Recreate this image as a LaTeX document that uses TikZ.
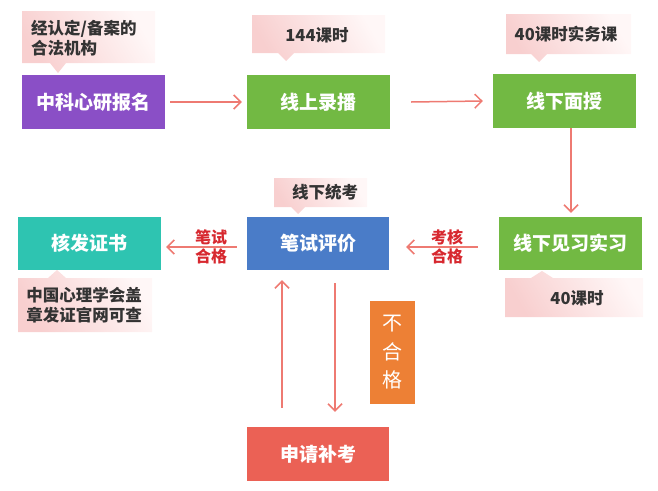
\documentclass[tikz,border=0pt]{standalone}
\usepackage{fontspec}
\setmainfont{Noto Sans CJK SC}
\usetikzlibrary{arrows.meta}
\definecolor{cpurple}{HTML}{8A4FC6}
\definecolor{cgreen}{HTML}{72B943}
\definecolor{cblue}{HTML}{4A7CC8}
\definecolor{cteal}{HTML}{2EC4B1}
\definecolor{corange}{HTML}{ED8035}
\definecolor{cred}{HTML}{EB6155}
\definecolor{carrow}{HTML}{EE7A72}
\definecolor{clabel}{HTML}{D7282F}
\definecolor{ctext}{HTML}{333333}
\definecolor{cpinkA}{HTML}{F8CFCF}
\definecolor{cpinkB}{HTML}{FFF7F7}
\tikzset{
  box/.style={minimum width=143pt, minimum height=54pt, inner sep=0pt, text=white,
    font=\fontsize{19pt}{22pt}\selectfont\bfseries},
  callbg/.style={left color=cpinkA, right color=cpinkB, shading angle=120},
  calltext/.style={text=ctext, align=center, inner sep=0pt,
    font=\fontsize{16.5pt}{20pt}\selectfont\bfseries},
  lbl/.style={text=clabel, align=center, inner sep=0pt,
    font=\fontsize{16pt}{19pt}\selectfont\bfseries},
  flow/.style={draw=carrow, line width=1.5pt, -{Straight Barb[length=7pt,width=14pt]}}
}
\begin{document}
\begin{tikzpicture}[x=1pt,y=-1pt]
\useasboundingbox (0,0) rectangle (658,490);
% callout backgrounds
\shade[callbg] (22,11) -- (155,11) -- (155,63) -- (66,63) -- (58,73) -- (50,63) -- (22,63) -- cycle;
\shade[callbg] (252,15) -- (385,15) -- (385,53) -- (294,53) -- (286,61) -- (278,53) -- (252,53) -- cycle;
\shade[callbg] (506,14) -- (631,14) -- (631,54) -- (547,54) -- (539,62) -- (531,54) -- (506,54) -- cycle;
\shade[callbg] (274,178) -- (367,178) -- (367,207) -- (305,207) -- (298,214) -- (291,207) -- (274,207) -- cycle;
\shade[callbg] (505,278) -- (531,278) -- (542,271) -- (553,278) -- (643,278) -- (643,317) -- (505,317) -- cycle;
\shade[callbg] (18,278) -- (48,278) -- (57,270) -- (66,278) -- (152,278) -- (152,332) -- (18,332) -- cycle;
% callout texts
\node[calltext, align=left, anchor=west] (t1) at (31,38) {经认定/备案的\\合法机构};
\node[calltext] (t2) at (317,35) {144课时};
\node[calltext] (t3) at (566,34) {40课时实务课};
\node[calltext] (t4) at (325,192) {线下统考};
\node[calltext] (t5) at (577,298) {40课时};
\node[calltext] (t6) at (84,305) {中国心理学会盖\\章发证官网可查};
% boxes
\node[box, fill=cpurple] (reg) at (93.5,102) {中科心研报名};
\node[box, fill=cgreen] (online) at (318.5,102) {线上录播};
\node[box, fill=cgreen] (offline) at (564.5,101) {线下面授};
\node[box, fill=cgreen, minimum height=53pt] (practice) at (570.5,243.5) {线下见习实习};
\node[box, fill=cblue, minimum width=142pt, minimum height=53pt] (exam) at (318,243.5) {笔试评价};
\node[box, fill=cteal, minimum height=53pt] (cert) at (89.5,243.5) {核发证书};
\node[box, fill=cred, minimum width=142pt] (retake) at (318,454) {申请补考};
\node[fill=corange, minimum width=45pt, minimum height=103pt, inner sep=0pt, text=white,
  align=center, font=\fontsize{20pt}{28.5pt}\selectfont] (fail) at (392.5,352.5) {不\\合\\格};
% connectors
\draw[flow] ([xshift=5pt]reg.east) -- ([xshift=-5pt]online.west);
\draw[flow] ([xshift=21pt]online.east) -- ([xshift=-10pt]offline.west);
\draw[flow] ([xshift=6.5pt]offline.south) -- ([xshift=0.5pt,yshift=4pt]practice.north);
\draw[flow] ([xshift=-21pt,yshift=-3.5pt]practice.west) -- ([xshift=17pt,yshift=-3.5pt]exam.east);
\draw[flow] ([xshift=-10pt,yshift=-3.5pt]exam.west) -- ([xshift=5pt,yshift=-3.5pt]cert.east);
\draw[flow] ([xshift=-36pt,yshift=19pt]retake.north) -- ([xshift=-36pt,yshift=-10pt]exam.south);
\draw[flow] ([xshift=17pt,yshift=-13pt]exam.south) -- ([xshift=17pt,yshift=15pt]retake.north);
% labels
\node[lbl] (l1) at (447,247) {考核\\合格};
\node[lbl] (l2) at (211,247) {笔试\\合格};
\end{tikzpicture}
\end{document}
